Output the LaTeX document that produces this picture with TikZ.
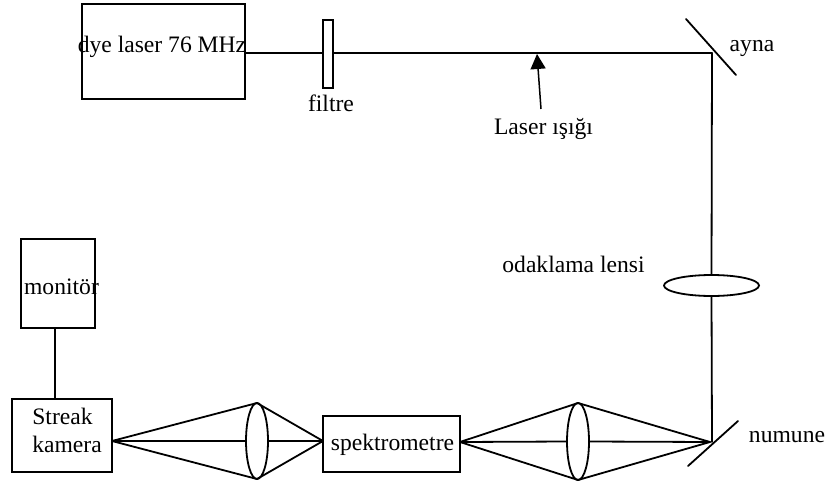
\documentclass[tikz,border=0pt]{standalone}
\usepackage{fontspec}
\setmainfont{Liberation Serif}
\usetikzlibrary{shapes.geometric,arrows.meta}
\tikzset{
  ln/.style={line width=1.8pt,line cap=round,black},
  boxn/.style={draw,line width=1.8pt,inner sep=0pt,outer sep=0pt,anchor=north west,fill=white},
  lensn/.style={draw,ellipse,line width=1.8pt,inner sep=0pt,outer sep=0pt},
  lbl/.style={inner sep=0pt,outer sep=0pt,font=\fontsize{23.6}{28}\selectfont,text=black,anchor=base}
}
\begin{document}
\begin{tikzpicture}[x=1pt,y=-1pt]
\useasboundingbox (0,0) rectangle (829,489);
% boxes
\node[boxn,minimum width=163pt,minimum height=95pt] (dye) at (82,4) {};
\node[boxn,minimum width=10pt,minimum height=68pt] (filter) at (323,20) {};
\node[boxn,minimum width=74pt,minimum height=89pt] (mon) at (21,239) {};
\node[boxn,minimum width=100pt,minimum height=73pt] (streak) at (12,399) {};
\node[boxn,minimum width=137pt,minimum height=56pt] (spek) at (323,416) {};
% lenses
\node[lensn,minimum width=95pt,minimum height=21pt] (lensA) at (711.5,285.5) {};
\node[lensn,minimum width=22pt,minimum height=76pt] (lensB) at (257,441) {};
\node[lensn,minimum width=22pt,minimum height=77pt] (lensC) at (578,441.5) {};
% free points
\coordinate (corner) at (712,53);
\coordinate (sample) at (712,442);
\coordinate (beamstart) at (dye.east |- 0,53);
\coordinate (beamf) at (filter.west |- 0,53);
\coordinate (beamg) at (filter.east |- 0,53);
\coordinate (topM) at (686,19);
\coordinate (botM) at (736,75);
\coordinate (topN) at (738,421);
\coordinate (botN) at (688,466);
\coordinate (arrowtip) at (537,54);
\coordinate (arrowtail) at (541,109);
\coordinate (monfoot) at (55,328);
\coordinate (streaktop) at (55,399);
\coordinate (sL) at (112,441);
\coordinate (spL) at (323,441);
\coordinate (spR) at (460,442);
\coordinate (fp) at (710,442);
% beam
\draw[ln] (beamstart) -- (beamf);
\draw[ln] (beamg) -- (corner);
\draw[ln] (corner) -- (lensA.north);
\draw[ln] (lensA.south) -- (sample);
\draw[ln] (topM) -- (botM);
\draw[ln] (topN) -- (botN);
\draw[line width=1.5pt,-{Triangle[length=15pt,width=15pt]}] (arrowtail) -- (arrowtip);
\draw[ln] (monfoot) -- (streaktop);
% ray fans
\draw[ln] (sL) -- (lensB.north);
\draw[ln] (sL) -- (lensB.west);
\draw[ln] (sL) -- (lensB.south);
\draw[ln] (spL) -- (lensB.north);
\draw[ln] (spL) -- (lensB.east);
\draw[ln] (spL) -- (lensB.south);
\draw[ln] (spR) -- (lensC.north);
\draw[ln] (spR) -- (lensC.west);
\draw[ln] (spR) -- (lensC.south);
\draw[ln] (fp) -- (lensC.north);
\draw[ln] (fp) -- (lensC.east);
\draw[ln] (fp) -- (lensC.south);
% labels
\node[lbl] (tDye) at (162,53) {dye laser 76 MHz};
\node[lbl] (tFil) at (331,112) {filtre};
\node[lbl] (tAyna) at (752,52) {ayna};
\node[lbl] (tLaser) at (543.5,135) {Laser ışığı};
\node[lbl] (tOdak) at (573.5,272) {odaklama lensi};
\node[lbl] (tMon) at (61.5,294) {monitör};
\node[lbl] (tStr) at (62.5,424) {Streak};
\node[lbl] (tKam) at (67,452) {kamera};
\node[lbl] (tSpek) at (392.5,450) {spektrometre};
\node[lbl] (tNum) at (787,442) {numune};
\end{tikzpicture}
\end{document}
